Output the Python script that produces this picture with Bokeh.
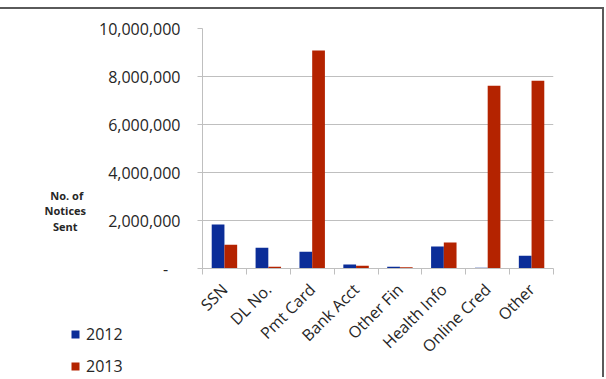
import math
import numpy as np
from bokeh.plotting import figure
from bokeh.layouts import column
from bokeh.models import ColumnDataSource, Range1d, FixedTicker, Legend, LegendItem
from bokeh.embed import file_html
from bokeh.resources import INLINE

categories = ["SSN", "DL No.", "Pmt Card", "Bank Acct", "Other Fin",
              "Health Info", "Online Cred", "Other"]
years = ["2012", "2013"]
notices_2012 = [1830000, 860000, 700000, 170000, 70000, 920000, 30000, 530000]
notices_2013 = [990000, 70000, 9080000, 110000, 50000, 1080000, 7610000, 7820000]
y_ticks = [0, 2000000, 4000000, 6000000, 8000000, 10000000]
y_tick_labels = ["-\u00a0\u00a0\u00a0", "2,000,000", "4,000,000", "6,000,000",
                 "8,000,000", "10,000,000"]
y_title_lines = ["No. of", "Notices", "Sent"]

BLUE = "#0b2d98"
RED = "#b42300"
TEXT = "#262626"
GRID = "#bfbfbf"
FONT = "Open Sans"
BAR_W = 0.29
NB = "\u00a0"

centers = np.arange(len(categories)) + 0.5
src = ColumnDataSource(dict(
    cat=categories,
    x12=centers - BAR_W / 2,
    x13=centers + BAR_W / 2,
    v12=notices_2012,
    v13=notices_2013,
))

# ---------------- main chart ----------------
p = figure(width=604, height=370, output_backend="svg", toolbar_location=None,
           x_range=Range1d(0, len(categories)), y_range=Range1d(0, 10000000),
           min_border_left=202, min_border_right=51, min_border_top=19,
           min_border_bottom=111)
p.styles = {"margin-top": "7px", "border-top": "2px solid #5a5a5a",
            "border-right": "2px solid #5a5a5a"}
p.outline_line_color = None
p.background_fill_color = "white"
p.border_fill_color = "white"

p.vbar(x="x12", top="v12", width=BAR_W, source=src, fill_color=BLUE, line_color=None)
p.vbar(x="x13", top="v13", width=BAR_W, source=src, fill_color=RED, line_color=None)

xa = p.xaxis[0]
xa.ticker = FixedTicker(ticks=list(centers), minor_ticks=list(range(len(categories) + 1)))
xa.major_label_overrides = {float(c): name for c, name in zip(centers, categories)}
xa.major_tick_out = 0
xa.major_tick_in = 0
xa.minor_tick_out = 6
xa.minor_tick_in = 0
xa.minor_tick_line_color = GRID
xa.axis_line_color = GRID
xa.major_label_orientation = math.pi / 4
xa.major_label_text_font = FONT
xa.major_label_text_font_size = "16px"
xa.major_label_text_color = TEXT
xa.major_label_standoff = 12

ya = p.yaxis[0]
ya.ticker = FixedTicker(ticks=y_ticks)
ya.major_label_overrides = {t: lab for t, lab in zip(y_ticks, y_tick_labels)}
ya.major_tick_out = 5
ya.major_tick_in = 0
ya.major_tick_line_color = GRID
ya.minor_tick_line_color = None
ya.axis_line_color = GRID
ya.major_label_text_font = FONT
ya.major_label_text_font_size = "16px"
ya.major_label_text_color = TEXT
ya.major_label_standoff = 17

# y title: horizontal axis label, pushed down with leading blank lines;
# trailing no-break spaces centre the shorter lines under right alignment
ya.axis_label = "\n" * 8 + "\n".join([y_title_lines[0] + NB,
                                      y_title_lines[1],
                                      y_title_lines[2] + NB * 3])
ya.axis_label_text_font = FONT
ya.axis_label_text_font_style = "bold"
ya.axis_label_text_font_size = "11px"
ya.axis_label_text_color = TEXT
ya.axis_label_text_align = "center"
ya.axis_label_text_baseline = "middle"
ya.axis_label_text_line_height = 1.04
ya.axis_label_standoff = 10
if "axis_label_orientation" in ya.properties():
    ya.axis_label_orientation = "horizontal"

p.xgrid.visible = False
p.ygrid.ticker = FixedTicker(ticks=y_ticks)
p.ygrid.grid_line_color = GRID

# ---------------- overlay holding the legend ----------------
q = figure(width=90, height=199, output_backend="svg", toolbar_location=None,
           x_range=Range1d(-3, -2), y_range=Range1d(0, 1),
           x_axis_location=None, y_axis_location=None,
           min_border=0, min_border_left=0, min_border_right=0,
           min_border_top=0, min_border_bottom=0)
q.styles = {"margin-top": "-199px", "margin-left": "40px"}
q.outline_line_color = None
q.background_fill_color = None
q.border_fill_color = None
q.xgrid.visible = False
q.ygrid.visible = False

# legend keys: same series, kept outside this overlay's visible range
k12 = q.vbar(x="x12", top="v12", width=BAR_W, source=src, fill_color=BLUE, line_color=None)
k13 = q.vbar(x="x13", top="v13", width=BAR_W, source=src, fill_color=RED, line_color=None)

legend = Legend(items=[LegendItem(label=years[0], renderers=[k12], index=0),
                       LegendItem(label=years[1], renderers=[k13], index=0)],
                location=(30, 0), glyph_width=10, glyph_height=10,
                label_standoff=6, label_text_font=FONT, label_text_font_size="16px",
                label_text_color=TEXT, label_height=22, spacing=10, padding=0,
                margin=0, border_line_color=None, background_fill_alpha=0)
q.add_layout(legend)

layout = column(p, q)
open("out.html", "w").write(file_html(layout, INLINE))
